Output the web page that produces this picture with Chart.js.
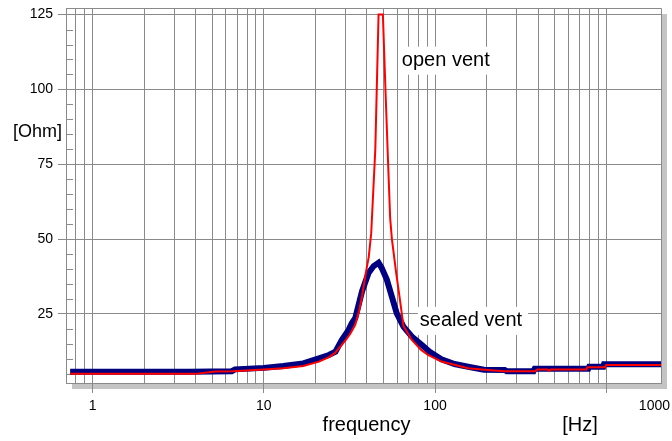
<!DOCTYPE html>
<html>
<head>
<meta charset="utf-8">
<script src="https://cdn.jsdelivr.net/npm/chart.js@4.4.0/dist/chart.umd.min.js"></script>
<style>
    html, body { margin: 0; padding: 0; background: #fff; }
</style>
</head>
<body>
<canvas id="impedanceChart" width="672" height="441"></canvas>
<script>
// open vent (red)
const openFreq = [0.74, 4, 5.2, 6.6, 10, 13, 17, 21, 24, 26, 30, 32, 34.2, 36, 37.5, 39.5, 41, 42.4, 44.8, 46.8,
    49.6, 51.2, 53, 54.7, 56, 59.3, 62, 65.4, 73, 83, 91, 109, 156, 203, 253, 385, 395, 455, 464, 475,
    765, 775, 985, 1000, 2090];
const openOhm = [5.0, 5.0, 5.8, 5.9, 6.5, 6.9, 7.6, 9.1, 10.6, 11.9, 16.2, 18.4, 21.4, 26, 31, 39, 44, 52, 80, 125,
    125, 102, 78, 57, 50, 38.7, 30.9, 21, 16.4, 13, 11.3, 9.1, 6.9, 6.3, 5.9, 5.9, 6.5, 6.5, 6.0, 6.5,
    6.5, 7.2, 7.2, 8.0, 8.0];

// sealed vent (navy)
const sealedFreq = [0.74, 3.7, 6.5, 6.8, 10, 13, 17, 21, 24, 26.2, 28.6, 31.3, 32.7, 34.2, 37.5, 40.9, 43.8, 46.8, 48.8, 52.3,
    55.9, 59.7, 65.4, 73.1, 83.5, 93, 109, 130, 156, 193, 255, 262, 376, 382, 785, 795, 960, 970, 2090];
const sealedOhm = [5.7, 5.7, 5.9, 6.5, 7.0, 7.6, 8.5, 10.2, 11.3, 12.4, 16.4, 19.7, 22, 23.6, 32.6, 38.7, 41, 42.1, 40.4, 36.5,
    30.9, 25.3, 20.8, 17.5, 14.7, 12.4, 9.9, 8.3, 7.4, 6.4, 6.3, 5.9, 5.9, 6.7, 6.7, 7.4, 7.4, 8.2, 8.2];

// axes
const xGridValues = [0.8, 0.9, 1, 2, 3, 4, 5, 6, 7, 8, 9, 10, 20, 30, 40, 50, 60, 70, 80, 90,
    100, 200, 300, 400, 500, 600, 700, 800, 900, 1000];
const xLabelValues = [1, 10, 100, 1000];
const yTickValues = [25, 50, 75, 100, 125];
const yMinorValues = [5, 10, 15, 20, 30, 35, 40, 45, 55, 60, 65, 70, 80, 85, 90, 95, 105, 110, 115, 120];

const FONT = "'Liberation Sans', Arial, sans-serif";
const gridColor = '#8a8a8a';

const toPoints = (xs, ys) => xs.map((x, i) => ({ x: x, y: ys[i] }));

// shadowed white plot area, frame, minor ticks, and all the loose text
const decorPlugin = {
    id: 'decor',
    beforeDraw(chart) {
        const ctx = chart.ctx;
        const a = chart.chartArea;
        ctx.save();
        ctx.fillStyle = '#ffffff';
        ctx.fillRect(0, 0, chart.width, chart.height);
        ctx.fillStyle = '#c4c4c4';
        ctx.fillRect(a.left + 6, a.top + 6, a.right - a.left, a.bottom - a.top);
        ctx.fillStyle = '#ffffff';
        ctx.fillRect(a.left, a.top, a.right - a.left, a.bottom - a.top);
        ctx.restore();
    },
    beforeDatasetsDraw(chart) {
        const ctx = chart.ctx;
        const a = chart.chartArea;
        const y = chart.scales.y;
        ctx.save();
        ctx.strokeStyle = gridColor;
        ctx.lineWidth = 1;
        ctx.beginPath();
        ctx.moveTo(a.left, a.top + 0.5);
        ctx.lineTo(a.right + 0.5, a.top + 0.5);
        ctx.lineTo(a.right + 0.5, a.bottom);
        yMinorValues.forEach(v => {
            const py = Math.round(y.getPixelForValue(v)) + 0.5;
            ctx.moveTo(a.left, py);
            ctx.lineTo(a.left + 7, py);
        });
        ctx.stroke();

        // text boxes
        const labels = [
            { text: 'open vent', f: 64, v: 109.6 },
            { text: 'sealed vent', f: 81.5, v: 22.7 }
        ];
        ctx.font = '20px ' + FONT;
        ctx.textBaseline = 'middle';
        ctx.textAlign = 'left';
        labels.forEach(l => {
            const px = chart.scales.x.getPixelForValue(l.f);
            const py = y.getPixelForValue(l.v);
            const w = ctx.measureText(l.text).width;
            ctx.fillStyle = '#ffffff';
            ctx.fillRect(px - 2, py - 14, w + 8, 28);
            ctx.fillStyle = '#000000';
            ctx.fillText(l.text, px, py);
        });
        ctx.restore();
    },
    afterDraw(chart) {
        const ctx = chart.ctx;
        const a = chart.chartArea;
        const x = chart.scales.x;
        ctx.save();
        ctx.fillStyle = '#000000';
        ctx.textBaseline = 'middle';
        ctx.font = '14px ' + FONT;
        xLabelValues.forEach((v, i) => {
            if (i === xLabelValues.length - 1) {
                ctx.textAlign = 'right';
                ctx.fillText(String(v), chart.width - 2, a.bottom + 23);
            } else {
                ctx.textAlign = 'center';
                ctx.fillText(String(v), x.getPixelForValue(v), a.bottom + 23);
            }
        });
        ctx.font = '20px ' + FONT;
        ctx.textAlign = 'center';
        ctx.fillText('frequency', (a.left + a.right) / 2 + 3, a.bottom + 42);
        ctx.fillText('[Hz]', a.right - 81, a.bottom + 42);
        ctx.font = '18px ' + FONT;
        ctx.textAlign = 'left';
        ctx.fillText('[Ohm]', 13, 132);
        ctx.restore();
    }
};

const impedanceChart = new Chart(document.getElementById('impedanceChart'), {
    type: 'line',
    data: {
        datasets: [
            {
                label: 'open vent',
                data: toPoints(openFreq, openOhm),
                borderColor: '#ff0000',
                borderWidth: 2,
                pointRadius: 0,
                tension: 0
            },
            {
                label: 'sealed vent',
                data: toPoints(sealedFreq, sealedOhm),
                borderColor: '#000080',
                borderWidth: 6,
                pointRadius: 0,
                tension: 0
            }
        ]
    },
    options: {
        responsive: false,
        animation: false,
        devicePixelRatio: 1,
        layout: {
            padding: { top: 8, right: 11, left: 0, bottom: 0 }
        },
        plugins: {
            legend: { display: false },
            tooltip: { enabled: false }
        },
        scales: {
            x: {
                type: 'logarithmic',
                min: 0.738,
                max: 2087,
                afterBuildTicks: s => { s.ticks = xGridValues.map(v => ({ value: v })); },
                afterFit: s => { s.height = 58; s.paddingLeft = 0; s.paddingRight = 0; },
                ticks: { display: false },
                grid: {
                    color: gridColor,
                    lineWidth: 1,
                    tickLength: 10,
                    tickColor: c => (xLabelValues.includes(c.tick.value) ? gridColor : 'rgba(0,0,0,0)')
                },
                border: { color: gridColor }
            },
            y: {
                type: 'linear',
                min: 1.95,
                max: 127.2,
                afterBuildTicks: s => { s.ticks = yTickValues.map(v => ({ value: v })); },
                afterFit: s => { s.width = 66; s.paddingTop = 0; s.paddingBottom = 0; },
                ticks: {
                    color: '#000000',
                    font: { family: FONT, size: 14 },
                    padding: 5
                },
                grid: {
                    color: gridColor,
                    lineWidth: 1,
                    tickLength: 8
                },
                border: { color: gridColor }
            }
        }
    },
    plugins: [decorPlugin]
});
</script>
</body>
</html>
